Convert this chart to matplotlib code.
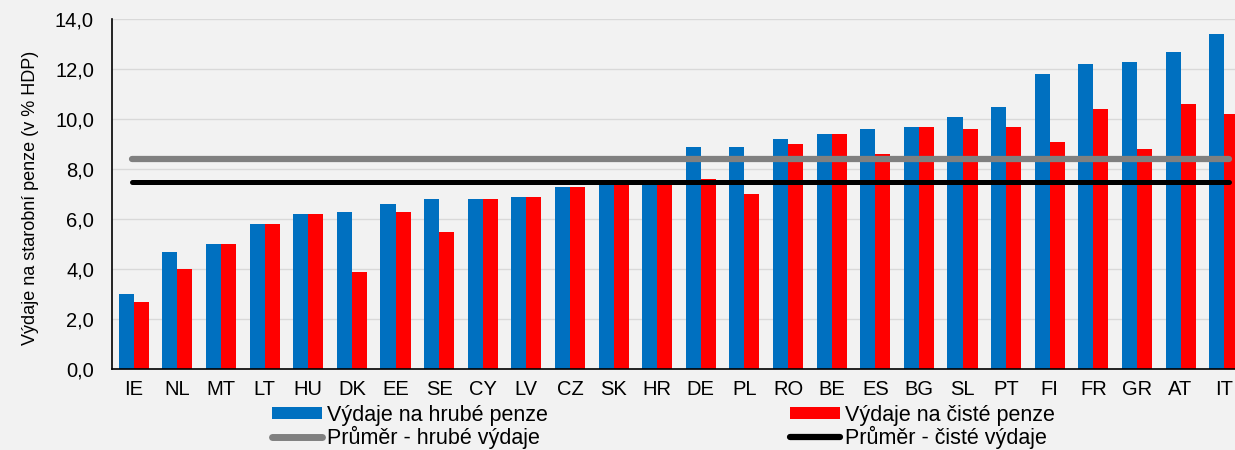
import matplotlib
matplotlib.use("Agg")
import matplotlib.pyplot as plt
from matplotlib.patches import Patch
from matplotlib.lines import Line2D
from matplotlib.ticker import FuncFormatter
import numpy as np

countries = ["IE", "NL", "MT", "LT", "HU", "DK", "EE", "SE", "CY", "LV", "CZ", "SK", "HR",
             "DE", "PL", "RO", "BE", "ES", "BG", "SL", "PT", "FI", "FR", "GR", "AT", "IT"]
gross = [3.0, 4.7, 5.0, 5.8, 6.2, 6.3, 6.6, 6.8, 6.8, 6.9, 7.3, 7.5, 7.5,
         8.9, 8.9, 9.2, 9.4, 9.6, 9.7, 10.1, 10.5, 11.8, 12.2, 12.3, 12.7, 13.4]
net = [2.7, 4.0, 5.0, 5.8, 6.2, 3.9, 6.3, 5.5, 6.8, 6.9, 7.3, 7.5, 7.5,
       7.6, 7.0, 9.0, 9.4, 8.6, 9.7, 9.6, 9.7, 9.1, 10.4, 8.8, 10.6, 10.2]
avg_gross = 8.4
avg_net = 7.5

labels = {
    "gross": "Výdaje na hrubé penze",
    "net": "Výdaje na čisté penze",
    "avg_gross": "Průměr - hrubé výdaje",
    "avg_net": "Průměr - čisté výdaje",
}
ylabel = "Výdaje na starobní penze (v % HDP)"

plt.rcParams["font.family"] = ["Liberation Sans", "DejaVu Sans"]
BG = "#f2f2f2"
BLUE = "#0070c0"
RED = "#ff0000"

fig = plt.figure(figsize=(12.35, 4.5), dpi=100, facecolor=BG)
ax = fig.add_axes([112 / 1235, 81 / 450, 1134 / 1235, 350 / 450])
ax.set_facecolor(BG)

x = np.arange(len(countries))
w = 0.345
ax.bar(x - w / 2, gross, width=w, color=BLUE, zorder=2)
ax.bar(x + w / 2, net, width=w, color=RED, zorder=2)

ax.plot([x[0] - 0.05, x[-1] + 0.1], [avg_gross, avg_gross], color="#808080", lw=4.5,
        solid_capstyle="round", zorder=3)
ax.plot([x[0] - 0.05, x[-1] + 0.1], [avg_net, avg_net], color="black", lw=3.6,
        solid_capstyle="round", zorder=3)

ax.set_xlim(-0.5, len(countries) - 0.5)
ax.set_ylim(0, 14)
ax.set_yticks(np.arange(0, 14.1, 2))
ax.yaxis.set_major_formatter(FuncFormatter(lambda v, p: f"{v:.1f}".replace(".", ",")))
ax.set_xticks(x)
ax.set_xticklabels(countries)
ax.tick_params(axis="both", length=0, labelsize=14.5, colors="#000000")
ax.tick_params(axis="x", pad=8)
ax.tick_params(axis="y", pad=13)
ax.grid(axis="y", color="#d9d9d9", lw=1, zorder=0)
ax.set_axisbelow(True)
for s in ["top", "right"]:
    ax.spines[s].set_visible(False)
for s in ["left", "bottom"]:
    ax.spines[s].set_color("black")
    ax.spines[s].set_linewidth(1.2)
    ax.spines[s].set_zorder(4)
ax.set_ylabel(ylabel, fontsize=13)
ax.yaxis.label.set_va("center")
ax.yaxis.set_label_coords((30 - 112) / 1134, 0.49)

h_gross = Patch(facecolor=BLUE, edgecolor="none")
h_net = Patch(facecolor=RED, edgecolor="none")
h_ag = Line2D([], [], color="#808080", lw=5, solid_capstyle="round")
h_an = Line2D([], [], color="black", lw=4.5, solid_capstyle="round")

common = dict(frameon=False, fontsize=15.5, handlelength=2.3, handleheight=0.5,
              handletextpad=0.25, labelspacing=0.0, borderaxespad=0, borderpad=0)
fig.legend([h_gross, h_ag], [labels["gross"], labels["avg_gross"]],
           loc="upper left", bbox_to_anchor=(272 / 1235, 1 - 405 / 450), **common)
fig.legend([h_net, h_an], [labels["net"], labels["avg_net"]],
           loc="upper left", bbox_to_anchor=(790 / 1235, 1 - 405 / 450), **common)

fig.savefig("out.png", dpi=100, facecolor=BG)
